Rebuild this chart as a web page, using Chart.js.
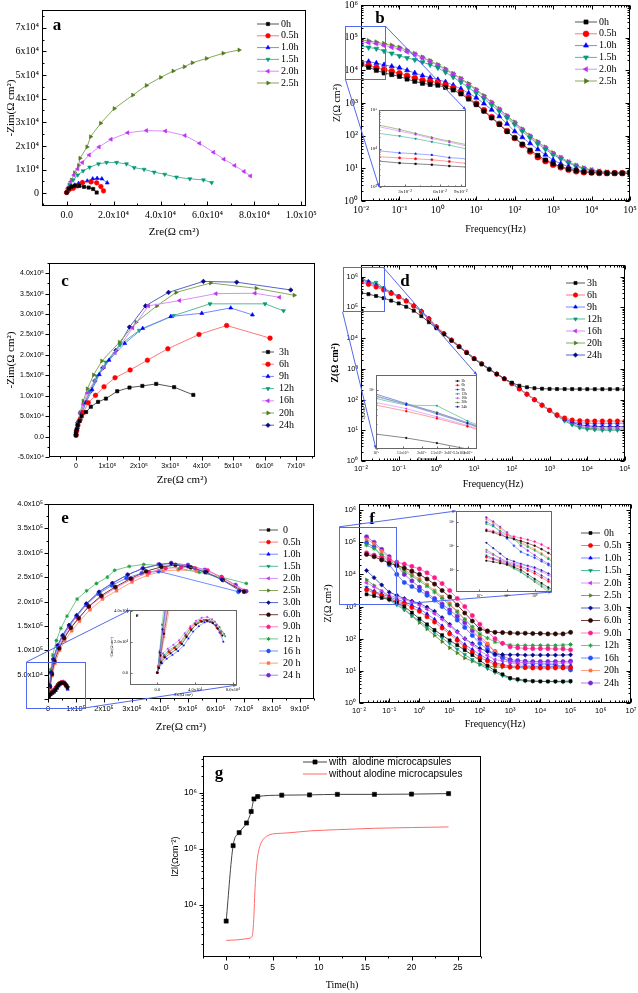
<!DOCTYPE html>
<html><head><meta charset="utf-8">
<script src="https://cdn.jsdelivr.net/npm/chart.js@4.4.1/dist/chart.umd.min.js"></script>
<style>
html,body{margin:0;padding:0;background:#fff;}
body{width:638px;height:993px;position:relative;overflow:hidden;}
canvas{position:absolute;}
</style></head><body>
<script>
const SERIF = "'Liberation Serif','Times New Roman',serif";
const SANS = "'Liberation Sans',Arial,sans-serif";

// ================= DATA =================
// ---- Panel a (Nyquist, 0-2.5 h) ----
const aLabels = ['0h','0.5h','1.0h','1.5h','2.0h','2.5h'];
const aZre_0h  = [0,1000,2100,3500,5400,7400,9400,11300,12800];
const aZim_0h  = [300,2000,2800,3200,3100,2700,2400,1800,300];
const aZre_05h = [0,600,1400,2800,4500,6700,10400,12800,14600,15700];
const aZim_05h = [300,1100,1800,2100,3100,4500,4800,4400,2800,1000];
const aZre_10h = [0,1000,2100,3500,5100,6800,8800,11100,13000,15000,17300];
const aZim_10h = [300,1700,2800,3500,4200,4600,5200,6100,6300,6100,4400];
const aZre_15h = [0,400,1400,2800,4700,7000,9800,13600,17000,21300,25500,28800,33000,37300,41800,46800,52500,58300,61800];
const aZim_15h = [300,1700,3500,5600,7700,9400,11000,12400,13000,13000,12400,10800,10100,8900,8000,6800,6100,5600,4500];
const aZre_20h = [0,700,1700,3100,4700,6700,9600,13800,18900,26000,34000,42100,50400,56600,62600,67000,71600,75600,78300];
const aZim_20h = [300,2500,4900,7700,10300,13000,16200,19600,22800,25600,26500,26300,24400,21100,17300,14400,11700,9200,7300];
const aZre_25h = [0,400,1100,2100,3400,5100,5700,8700,10200,14500,20300,28200,34000,40100,45400,50200,53600,59600,66700,73500];
const aZim_25h = [300,1700,3500,5600,8700,11700,14800,19600,23900,29600,35800,41500,45600,49000,51700,53500,55200,57000,59200,60600];
const aXTicks = [0,20000,40000,60000,80000,100000];
const aXTickLabels = ['0.0','2.0x10⁴','4.0x10⁴','6.0x10⁴','8.0x10⁴','1.0x10⁵'];
const aYTicks = [0,10000,20000,30000,40000,50000,60000,70000];
const aYTickLabels = ['0','1x10⁴','2x10⁴','3x10⁴','4x10⁴','5x10⁴','6x10⁴','7x10⁴'];

// ---- Panel b (Bode, 0-2.5 h) ----
const bFreq = [0.01,0.0158,0.0251,0.0398,0.0631,0.1,0.158,0.251,0.398,0.631,1,1.58,2.51,3.98,6.31,10,15.8,25.1,39.8,63.1,100,158,251,398,631,1000,1580,2510,3980,6310,10000,15800,25100,39800,63100,100000];
const bZ_0p0 = [1.5e4,1.23e4,1.0e4,8.3e3,7.4e3,6.5e3,5.4e3,4.6e3,4.0e3,3.7e3,3.5e3,3.0e3,2.5e3,1.9e3,1.32e3,890,560,350,220,135,85,55,36,25,18,13.8,11.2,9.5,8.5,7.8,7.4,7.2,7.1,7.1,7.1,7.1];
const bZ_0p5 = [1.66e4,1.41e4,1.2e4,1.05e4,9.3e3,8.1e3,6.8e3,5.8e3,4.9e3,4.6e3,4.2e3,3.5e3,2.9e3,2.1e3,1.45e3,955,600,370,230,138,85,52,33,22,16.6,12.9,10.7,9.1,8.1,7.6,7.4,7.2,7.1,7.1,7.1,7.1];
const bZ_1p0 = [1.8e4,1.86e4,1.66e4,1.48e4,1.32e4,1.2e4,1.0e4,8.3e3,6.9e3,6.0e3,5.2e3,4.4e3,3.5e3,2.7e3,2.0e3,1.45e3,955,620,390,230,135,89,58,38,26,18,13.8,11.2,9.3,8.3,7.9,7.6,7.2,7.1,7.2,8.5];
const bZ_1p5 = [5.6e4,5.0e4,4.6e4,3.9e4,3.3e4,2.75e4,2.4e4,2.1e4,1.78e4,1.48e4,1.2e4,8.7e3,6.2e3,4.3e3,2.95e3,2.0e3,1.35e3,870,560,350,220,135,85,56,38,26,19.5,14.8,11.5,9.5,8.5,7.9,7.6,7.2,7.1,7.1];
const bZ_2p0 = [7.4e4,7.1e4,6.6e4,5.8e4,5.1e4,4.5e4,3.7e4,3.1e4,2.4e4,1.86e4,1.41e4,1.02e4,7.6e3,5.4e3,3.6e3,2.45e3,1.55e3,1.0e3,630,390,245,150,95,62,42,28,21,15.5,12,10,8.9,8.1,7.6,7.2,7.1,7.1];
const bZ_2p5 = [8.5e4,7.9e4,7.2e4,6.5e4,5.8e4,5.0e4,4.1e4,3.2e4,2.5e4,1.95e4,1.48e4,1.1e4,7.9e3,5.6e3,3.9e3,2.6e3,1.66e3,1.05e3,660,410,257,158,100,65,44,29.5,21.4,15.8,12.3,10.2,8.9,8.1,7.6,7.2,7.1,7.1];
// inset of b
const bInsFreq = [0.018,0.027,0.037,0.051,0.072,0.1];
const bIns_0p0 = [4700,4200,4000,3800,3500,3300];
const bIns_0p5 = [6100,5700,5400,5100,4600,4100];
const bIns_1p0 = [8700,7700,7300,6800,5800,5400];
const bIns_1p5 = [24600,21000,17900,14900,12200,9800];
const bIns_2p0 = [36700,28300,23200,18200,14600,11700];
const bIns_2p5 = [40600,31300,24600,19400,15500,12700];
const bodeXTicks = [0.01,0.1,1,10,100,1000,10000,100000];
const bodeXTickLabels = ['10⁻²','10⁻¹','10⁰','10¹','10²','10³','10⁴','10⁵'];
const bodeYTicks = [1,10,100,1000,10000,100000,1000000];
const bodeYTickLabels = ['10⁰','10¹','10²','10³','10⁴','10⁵','10⁶'];

// ---- Panel c (Nyquist, 3-24 h) ----
const cLabels = ['3h','6h','9h','12h','16h','20h','24h'];
const cZre_3h  = [0,0,2000,5000,11000,18000,32000,47000,70000,95000,131000,170000,211000,255000,312000,373000];
const cZim_3h  = [3000,10000,18000,28000,38000,50000,60000,73000,85000,93000,111000,120000,124000,129000,121000,102000];
const cZre_6h  = [0,2000,6000,13000,23000,39000,62000,89000,124000,172000,227000,292000,391000,479000,617000];
const cZim_6h  = [3000,14000,28000,42000,59000,83000,101000,122000,144000,163000,187000,215000,250000,272000,241000];
const cZre_9h  = [0,0,5000,11000,19000,32000,51000,74000,105000,155000,212000,301000,400000,492000,561000];
const cZim_9h  = [6000,12000,22000,38000,59000,83000,115000,152000,187000,228000,265000,294000,302000,315000,298000];
const cZre_12h = [0,2000,8000,18000,30000,45000,66000,95000,140000,201000,310000,426000,601000,660000];
const cZim_12h = [5000,14000,33000,54000,83000,111000,148000,182000,225000,260000,296000,325000,325000,308000];
const cZre_16h = [0,2000,5000,13000,23000,36000,60000,90000,124000,180000,230000,329000,445000,569000,647000];
const cZim_16h = [5000,15000,34000,56000,79000,107000,138000,171000,205000,266000,320000,333000,350000,351000,341000];
const cZre_20h = [0,2000,5000,13000,23000,36000,56000,82000,138000,191000,257000,318000,428000,573000,694000];
const cZim_20h = [5000,15000,34000,59000,87000,117000,151000,185000,231000,280000,320000,353000,376000,363000,346000];
const cZre_24h = [0,2000,6000,15000,27000,45000,60000,85000,127000,170000,221000,294000,405000,511000,683000];
const cZim_24h = [5000,15000,34000,59000,83000,110000,136000,168000,211000,268000,320000,353000,380000,378000,359000];
const cXTicks = [0,100000,200000,300000,400000,500000,600000,700000];
const cXTickLabels = ['0','1x10⁵','2x10⁵','3x10⁵','4x10⁵','5x10⁵','6x10⁵','7x10⁵'];
const cYTicks = [-50000,0,50000,100000,150000,200000,250000,300000,350000,400000];
const cYTickLabels = ['-5.0x10⁴','0.0','5.0x10⁴','1.0x10⁵','1.5x10⁵','2.0x10⁵','2.5x10⁵','3.0x10⁵','3.5x10⁵','4.0x10⁵'];

// ---- Panel d (Bode, 3-24 h) ----
const dFreq = [0.01,0.0158,0.0251,0.0398,0.0631,0.1,0.158,0.251,0.398,0.631,1,1.58,2.51,3.98,6.31,10,15.8,25.1,39.8,63.1,100,158,251,398,631,1000,1580,2510,3980,6310,10000,15800,25100,39800,63100,100000];
const dZ_3h  = [3.0e5,2.7e5,2.35e5,2.0e5,1.66e5,1.35e5,1.05e5,7.8e4,5.2e4,3.3e4,2.1e4,1.32e4,8.3e3,5.2e3,3.3e3,2.1e3,1.41e3,955,676,479,355,282,251,234,226,222,220,220,219,219,218,218,218,218,219,220];
const dZ_6h  = [6.6e5,5.6e5,4.6e5,3.7e5,2.85e5,2.2e5,1.6e5,1.1e5,7.3e4,4.2e4,2.3e4,1.38e4,8.5e3,5.3e3,3.4e3,2.15e3,1.45e3,960,670,470,325,220,148,98,65,45,32,25,21.5,20.5,20,20,20,20,20,20];
const dZ_9h  = [8.5e5,6.7e5,5.2e5,4.0e5,3.0e5,2.25e5,1.63e5,1.12e5,7.4e4,4.3e4,2.35e4,1.42e4,8.8e3,5.5e3,3.5e3,2.2e3,1.48e3,990,690,485,335,226,152,101,67,45,31,23,19,17.5,17,17,17,17,17,17];
const dZ_12h = [7.9e5,6.6e5,6.5e5,4.3e5,3.1e5,2.3e5,1.65e5,1.13e5,7.5e4,4.3e4,2.35e4,1.41e4,8.7e3,5.4e3,3.5e3,2.2e3,1.48e3,980,680,480,330,224,150,99,65,43,29,20,15,12,10.8,10.3,10,10,10,10];
const dZ_16h = [7.1e5,6.0e5,4.8e5,3.8e5,2.9e5,2.2e5,1.6e5,1.1e5,7.3e4,4.3e4,2.33e4,1.4e4,8.6e3,5.4e3,3.5e3,2.2e3,1.47e3,975,675,475,328,222,150,99,66,44,30,22,16.5,13.5,12.5,12.1,12,12,12,12];
const dZ_20h = [8.3e5,6.8e5,5.3e5,4.0e5,3.0e5,2.26e5,1.63e5,1.12e5,7.4e4,4.3e4,2.34e4,1.41e4,8.7e3,5.4e3,3.5e3,2.2e3,1.48e3,980,680,480,330,224,151,100,66,44,30,21.5,16,13,11.7,11.2,11,11,11,11];
const dZ_24h = [8.9e5,6.9e5,5.4e5,4.1e5,3.1e5,2.3e5,1.66e5,1.15e5,7.6e4,4.4e4,2.4e4,1.41e4,8.7e3,5.4e3,3.5e3,2.2e3,1.48e3,980,680,480,330,224,151,100,66,45,31,23.4,17.8,15.1,13.8,13.5,13.2,13.2,13.2,13.2];

// ---- Panel e (Nyquist, 0-24 h) ----
const eLabels = ['0','0.5h','1.0h','1.5h','2.0h','2.5h','3.0h','6.0h','9.0h','12 h','16 h','20 h','24 h'];
const eZre_0p0 = [0,1500,4000,8000,14000,20000,26000,31000,36000,41000,47000,53000,59000,64000,69000];
const eZim_0p0 = [0,3000,6500,9800,12500,15000,18500,23000,27500,31000,33000,33500,32000,28500,24000];
const eZre_0p5 = [0,1200,3500,7000,12000,18000,24000,30000,35000,40000,46000,52000,58000,63000,67000];
const eZim_0p5 = [0,3500,7000,10500,13500,16000,19500,24000,28500,31500,33500,34000,32500,29000,25500];
const eZre_1p0 = [0,2000,5000,10000,16000,22000,28000,33000,38000,44000,50000,56000,62000,66000,70000];
const eZim_1p0 = [0,3000,6000,9000,11500,14000,17500,22000,26500,30000,32500,32800,30500,26000,20000];
const eZre_1p5 = [0,1000,3000,7000,12000,19000,25000,30000,35000,40000,45000,50000,56000,62000,68000,72000];
const eZim_1p5 = [0,4000,8000,11500,14500,17000,20000,24500,29000,32000,33800,34000,33000,30500,26500,23500];
const eZre_2p0 = [0,1000,3000,6000,11000,17000,23000,29000,35000,41000,47000,53000,58000,63000,67000];
const eZim_2p0 = [0,4500,9000,12500,15500,18000,21000,25500,30000,33500,35500,36000,34500,31000,27000];
const eZre_2p5 = [0,1500,4000,8000,13000,19000,25000,31000,37000,43000,49000,55000,61000,66000,71000];
const eZim_2p5 = [0,4000,7500,10800,13500,16000,19000,23500,28500,32000,34000,34200,33000,29500,25000];
const eZre_3p0 = [0,2500,5500,11000,19000,34000,52000,75000,102000,137000,182000,230000,285000,340000,400000,440000,500000,560000,620000,685000];
const eZim_3p0 = [0,13000,28000,55000,82000,110000,131000,152000,172000,196000,220000,238000,255000,268000,276000,278000,272000,260000,245000,222000];
const eZre_6p0 = [0,3500,7000,14000,23000,40000,58000,82000,110000,146000,190000,240000,295000,350000,405000,455000,510000,565000,625000,700000];
const eZim_6p0 = [0,11000,25000,51000,77000,104000,125000,146000,166000,190000,212000,230000,247000,262000,271000,275000,270000,260000,244000,220000];
const eZre_9p0 = [0,3000,6500,13000,22000,38000,56000,80000,108000,145000,192000,242000,300000,360000,420000,475000,525000,570000,620000,700000];
const eZim_9p0 = [0,12000,26000,52000,79000,106000,126000,146000,165000,189000,210000,228000,246000,260000,268000,270000,268000,264000,250000,222000];
const eZre_12h = [0,2500,5000,10000,17000,30000,46000,68000,104000,138000,173000,212000,238000,290000,342000,400000,470000,540000,620000,708000];
const eZim_12h = [0,14000,31000,60000,90000,120000,145000,170000,205000,222000,237000,250000,264000,272000,276000,274000,268000,260000,250000,237000];
const eZre_16h = [0,3000,6000,12000,20000,35000,53000,76000,102000,136000,180000,228000,280000,335000,395000,680000];
const eZim_16h = [0,12000,27000,54000,81000,108000,128000,149000,169000,193000,216000,233000,248000,258000,262000,220000];
const eZre_20h = [0,3500,7500,15000,25000,42000,60000,85000,113000,150000,195000,245000,300000,355000,410000,465000,530000];
const eZim_20h = [0,10000,23000,48000,73000,100000,120000,140000,160000,183000,205000,222000,240000,254000,262000,265000,262000];
const eZre_24h = [0,2800,5800,11500,19500,35000,53000,76000,103000,138000,183000,230000,284000,338000,395000,440000,500000,560000,620000,670000,708000];
const eZim_24h = [0,12500,28000,55000,82000,110000,130000,151000,171000,195000,219000,237000,255000,268000,276000,279000,275000,265000,250000,234000,221000];
const eXTicks = [0,100000,200000,300000,400000,500000,600000,700000,800000,900000];
const eXTickLabels = ['0','1x10⁵','2x10⁵','3x10⁵','4x10⁵','5x10⁵','6x10⁵','7x10⁵','8x10⁵','9x10⁵'];
const eYTicks = [0,50000,100000,150000,200000,250000,300000,350000,400000];
const eYTickLabels = ['','5.0x10⁴','1.0x10⁵','1.5x10⁵','2.0x10⁵','2.5x10⁵','3.0x10⁵','3.5x10⁵','4.0x10⁵'];

// ---- Panel f (Bode, 0-24 h) ----
const fLabels = ['0h','0.5h','1.0h','1.5h','2.0h','2.5h','3.0h','6.0h','9.0h','12h','16h','20h','24h'];
const fFreq = [0.0178,0.0316,0.0562,0.1,0.178,0.316,0.562,1,1.78,3.16,5.62,10,17.8,31.6,56.2,100,178,316,562,1000,1780,3160,5620,10000,17800,31600,56200,100000];
const fZ_0p0 = [2400,2140,1860,1660,1290,1000,650,420,280,186,129,89,63,44,31,21,14.5,10,7.8,6.0,5.5,5.0,4.8,4.7,4.7,4.7,4.7,4.8];
const fZ_0p5 = [3300,2700,2200,1780,1480,1260,930,710,480,330,214,141,89,56,38,26,20.4,15.8,14.5,13.2,12.9,12.6,12.3,12.3,12.3,12.3,12.3,12.6];
const fZ_1p0 = [3700,3000,2450,2000,1660,1410,1100,850,590,400,250,158,102,66,46,32,23.4,17.8,15.8,14.1,13.8,13.8,13.8,13.8,13.8,13.8,13.8,14.1];
const fZ_1p5 = [4000,2950,2140,1580,1120,790,520,355,234,158,105,71,47,32,22.4,15.8,11.7,8.9,7.1,5.6,5.1,4.8,4.7,4.7,4.6,4.6,4.5,4.5];
const fZ_2p0 = [5500,4100,3000,2240,1900,1660,1380,1120,830,600,400,250,158,100,65,42,30,22.4,20.4,18.6,18.2,17.8,17.4,17.4,17.4,17.4,17.4,17.8];
const fZ_2p5 = [6800,4500,3000,2000,1290,830,510,316,200,126,81,52,36,25,20,15.8,14.5,13.2,12.9,12.6,12.6,12.3,12.3,12.3,12.3,12.3,12.3,12.6];
const fZ_3p0 = [13200,7900,4700,2800,2240,1780,1480,1260,955,710,450,280,166,100,71,50,40,33,32,31.6,31.6,30.9,30.9,30.9,30.9,30.9,30.9,31.6];
const fZ_6p0 = [41700,35500,28200,22400,19000,15800,12600,10000,7200,5000,3160,2000,1120,630,355,200,174,158,155,151,148,148,145,145,141,141,141,158];
const fZ_9p0 = [46800,39800,33100,28200,24000,20900,17800,14800,11200,7900,5200,3160,1780,1000,525,282,166,100,72,56,52,50,49,49,49,48,48,45];
const fZ_12h = [81000,63000,41700,28200,18600,12600,8900,6300,4300,2800,1780,1120,680,400,234,141,105,79,71,63,62,62,62,62,62,62,63,66];
const fZ_16h = [95500,70800,35500,20000,10000,5600,4200,3160,2240,1580,1000,630,380,224,126,71,47,32,25,20,18.6,17.4,17,16.6,16.2,15.8,13.2,10.7];
const fZ_20h = [123000,89000,52500,31600,20900,14100,10000,7100,4800,3160,2000,1260,710,400,224,126,71,40,26,17.8,15.8,14.5,14.1,13.8,13.8,13.8,13.8,13.8];
const fZ_24h = [148000,100000,60000,35500,19000,10000,6300,4000,2630,1780,1200,790,500,316,178,100,63,40,29.5,22.4,20.9,20,19.5,19.5,19.5,19.5,19.5,20];
const fXTicks = [0.01,0.1,1,10,100,1000,10000,100000,1000000,10000000];
const fXTickLabels = ['10⁻²','10⁻¹','10⁰','10¹','10²','10³','10⁴','10⁵','10⁶','10⁷'];

// ---- Panel g (|Z| vs time) ----
const gLabels = ['with  alodine microcapsules','without alodine microcapsules'];
const gWithT = [0,0.75,1.4,2.2,2.7,3.0,3.4,6,9,12,16,20,24];
const gWithZ = [5100,113000,193000,287000,460000,770000,850000,900000,910000,930000,930000,940000,960000];
const gWithoutT = [0,1,2,2.5,2.8,2.9,3.0,3.1,3.2,3.35,3.5,3.75,4,4.5,5,6,7,9,12,16,20,24];
const gWithoutZ = [2310,2340,2440,2520,2720,3530,6500,17000,34000,63000,91000,124000,147000,171000,183000,188000,193000,207000,218000,231000,238000,244000];
const gXTicks = [0,5,10,15,20,25];
const gXTickLabels = ['0','5','10','15','20','25'];
const gYTicks = [10000,100000,1000000];
const gYTickLabels = ['10⁴','10⁵','10⁶'];

// ================= STYLES =================
const STY = [
  {c:'#000000', l:'#555555', s:'rect', r:0},
  {c:'#ff0000', l:'#ff7777', s:'circle', r:0},
  {c:'#0000ff', l:'#7788ff', s:'triangle', r:0},
  {c:'#00997a', l:'#55bb99', s:'triangle', r:180},
  {c:'#c030f0', l:'#d890f8', s:'triangle', r:-90},
  {c:'#4f7a1c', l:'#88a860', s:'triangle', r:90},
  {c:'#0a0a90', l:'#5565c8', s:'rectRot', r:0},
  {c:'#2a0808', l:'#7a3a3a', s:'circle', r:0},
  {c:'#ff1a8c', l:'#ff80c0', s:'circle', r:0},
  {c:'#1fa040', l:'#70c888', s:'star', r:0},
  {c:'#1f4fff', l:'#7090ff', s:'circle', r:0},
  {c:'#ff7043', l:'#ffa080', s:'rect', r:0},
  {c:'#7a22d8', l:'#b080ee', s:'circle', r:0}
];

function ser(label, xs, ys, st, r, lw) {
  return {label, data: xs.map((x,i)=>({x, y: ys[i]})), showLine:true, borderColor: st.l, borderWidth: lw,
    pointStyle: st.s, pointRotation: st.r, pointRadius: r, pointHoverRadius: r,
    pointBorderColor: st.c, pointBackgroundColor: st.c, pointBorderWidth: st.s==='star'?1:0.6, backgroundColor: st.c};
}
function buildSet(labels, xsList, ysList, r, lw) {
  return labels.map((lb,i)=>ser(lb, xsList[i], ysList[i], STY[i], r, lw));
}
const aXs = [aZre_0h,aZre_05h,aZre_10h,aZre_15h,aZre_20h,aZre_25h];
const aYs = [aZim_0h,aZim_05h,aZim_10h,aZim_15h,aZim_20h,aZim_25h];
const bYs = [bZ_0p0,bZ_0p5,bZ_1p0,bZ_1p5,bZ_2p0,bZ_2p5];
const bInsYs = [bIns_0p0,bIns_0p5,bIns_1p0,bIns_1p5,bIns_2p0,bIns_2p5];
const cXs = [cZre_3h,cZre_6h,cZre_9h,cZre_12h,cZre_16h,cZre_20h,cZre_24h];
const cYs = [cZim_3h,cZim_6h,cZim_9h,cZim_12h,cZim_16h,cZim_20h,cZim_24h];
const dYs = [dZ_3h,dZ_6h,dZ_9h,dZ_12h,dZ_16h,dZ_20h,dZ_24h];
const eXs = [eZre_0p0,eZre_0p5,eZre_1p0,eZre_1p5,eZre_2p0,eZre_2p5,eZre_3p0,eZre_6p0,eZre_9p0,eZre_12h,eZre_16h,eZre_20h,eZre_24h];
const eYs = [eZim_0p0,eZim_0p5,eZim_1p0,eZim_1p5,eZim_2p0,eZim_2p5,eZim_3p0,eZim_6p0,eZim_9p0,eZim_12h,eZim_16h,eZim_20h,eZim_24h];
const fYs = [fZ_0p0,fZ_0p5,fZ_1p0,fZ_1p5,fZ_2p0,fZ_2p5,fZ_3p0,fZ_6p0,fZ_9p0,fZ_12h,fZ_16h,fZ_20h,fZ_24h];
const rep = (arr, n) => Array.from({length:n}, ()=>arr);

// ================= PLUGINS =================
function marker(ctx, style, rot, r, x, y, fill, stroke) {
  ctx.save(); ctx.translate(x,y); ctx.rotate((rot||0)*Math.PI/180);
  ctx.fillStyle = fill; ctx.strokeStyle = stroke; ctx.lineWidth = 0.6; ctx.beginPath();
  if (style==='rect') { const s=r*Math.SQRT1_2; ctx.rect(-s,-s,2*s,2*s); }
  else if (style==='rectRot') { ctx.moveTo(0,-r); ctx.lineTo(r,0); ctx.lineTo(0,r); ctx.lineTo(-r,0); ctx.closePath(); }
  else if (style==='triangle') { ctx.moveTo(0,-r); ctx.lineTo(r*0.866,r*0.5); ctx.lineTo(-r*0.866,r*0.5); ctx.closePath(); }
  else if (style==='star') { ctx.lineWidth=1; for (let k=0;k<3;k++){const a=k*Math.PI/3; ctx.moveTo(Math.sin(a)*r,-Math.cos(a)*r); ctx.lineTo(-Math.sin(a)*r,Math.cos(a)*r);} ctx.stroke(); ctx.restore(); return; }
  else { ctx.arc(0,0,r,0,Math.PI*2); }
  ctx.fill(); ctx.stroke(); ctx.restore();
}
const framePlugin = {
  id:'frame',
  afterDraw(chart, args, o) {
    if (!o || o.off) return;
    const ctx = chart.ctx, ca = chart.chartArea;
    const L=Math.round(ca.left)+0.5, R=Math.round(ca.right)-0.5, T=Math.round(ca.top)+0.5, B=Math.round(ca.bottom)-0.5;
    ctx.save(); ctx.strokeStyle = o.color||'#000'; ctx.lineWidth = 1;
    ctx.strokeRect(L, T, R-L, B-T);
    const sgn = o.dir==='out' ? 1 : -1;
    ['x','y'].forEach(id => {
      const s = chart.scales[id]; const ms = o[id+'Minor'];
      const major = s.ticks.map(t=>t.value);
      const minor = [];
      if (ms === 'log') {
        for (let e=Math.floor(Math.log10(s.min)); e<=Math.ceil(Math.log10(s.max)); e++)
          for (let k=2;k<=9;k++){ const v=k*Math.pow(10,e); if (v>=s.min && v<=s.max) minor.push(v); }
      } else if (ms) {
        for (let v=Math.ceil(s.min/ms)*ms; v<=s.max+1e-9; v+=ms)
          if (!major.some(m=>Math.abs(m-v)<ms*1e-3)) minor.push(v);
      }
      const draw = (v, len) => {
        const p = Math.round(s.getPixelForValue(v))+0.5;
        ctx.beginPath();
        if (id==='x') { ctx.moveTo(p,B); ctx.lineTo(p,B+sgn*len); if (o.mirror){ctx.moveTo(p,T); ctx.lineTo(p,T+len);} }
        else { ctx.moveTo(L,p); ctx.lineTo(L-sgn*len,p); if (o.mirror){ctx.moveTo(R,p); ctx.lineTo(R-len,p);} }
        ctx.stroke();
      };
      major.forEach(v=>draw(v, o.len||4));
      minor.forEach(v=>draw(v, o.mlen||2));
    });
    ctx.restore();
  }
};
const legendPlugin = {
  id:'lg',
  afterDraw(chart, args, o) {
    if (!o || !o.show) return;
    const ctx = chart.ctx, ca = chart.chartArea;
    ctx.save(); ctx.font = o.font; ctx.textBaseline = 'middle'; ctx.textAlign = 'left';
    chart.data.datasets.forEach((d,i) => {
      const x = ca.left + o.x, y = ca.top + o.y + i*o.dy;
      ctx.strokeStyle = d.borderColor; ctx.lineWidth = d.borderWidth;
      ctx.beginPath(); ctx.moveTo(x,y); ctx.lineTo(x+o.len,y); ctx.stroke();
      if (d.pointRadius>0) marker(ctx, d.pointStyle, d.pointRotation, o.r||d.pointRadius, x+o.len/2, y, d.pointBackgroundColor, d.pointBorderColor);
      ctx.fillStyle = '#000'; ctx.fillText(d.label, x+o.len+o.gap, y);
    });
    ctx.restore();
  }
};
const letterPlugin = {
  id:'letter',
  afterDraw(chart, args, o) {
    if (!o || !o.text) return;
    const ctx = chart.ctx, ca = chart.chartArea;
    ctx.save(); ctx.font = o.font; ctx.fillStyle='#000'; ctx.textAlign='center'; ctx.textBaseline='middle';
    ctx.fillText(o.text, ca.left+o.x, ca.top+o.y); ctx.restore();
  }
};
const bgPlugin = {
  id:'bg',
  beforeDraw(chart, args, o) {
    if (!o || !o.color) return;
    const ctx = chart.ctx, ca = chart.chartArea;
    ctx.save(); ctx.fillStyle = o.color; ctx.fillRect(ca.left, ca.top, ca.right-ca.left, ca.bottom-ca.top); ctx.restore();
  }
};

function axisCfg(spec, horiz, size) {
  return {
    type: spec.type || 'linear', position: horiz ? 'bottom' : 'left', min: spec.min, max: spec.max, bounds:'data',
    grid:{display:false, drawTicks:false}, border:{display:false},
    ticks:{autoSkip:false, maxRotation:0, minRotation:0, padding: spec.pad, color:'#000', font: spec.font,
      callback: (v,i) => (spec.labels[i] !== undefined ? spec.labels[i] : '')},
    title: spec.title ? {display:true, text: spec.title, color:'#000', font: spec.tfont, padding:0} : {display:false},
    afterBuildTicks: s => { s.ticks = spec.ticks.map(v=>({value:v})); },
    afterFit: s => { if (horiz) s.height = size; else s.width = size; s.paddingLeft=0; s.paddingRight=0; s.paddingTop=0; s.paddingBottom=0; }
  };
}
function makeChart(p) {
  const [L,T,R,B] = p.frame;
  const W = Math.round(R-L+p.ml+p.mr), H = Math.round(B-T+p.mt+p.mb);
  const cv = document.createElement('canvas');
  cv.width = W; cv.height = H;
  Object.assign(cv.style, {left:(L-p.ml)+'px', top:(T-p.mt)+'px', width:W+'px', height:H+'px', zIndex:String(p.z||1)});
  document.body.appendChild(cv);
  const ch = new Chart(cv, {
    type:'scatter',
    data:{datasets:p.datasets},
    options:{
      responsive:false, animation:false, devicePixelRatio:1, events:[],
      layout:{padding:{left:0, top:p.mt, right:p.mr, bottom:0}},
      scales:{x: axisCfg(p.x, true, p.mb), y: axisCfg(p.y, false, p.ml)},
      plugins:{legend:{display:false}, tooltip:{enabled:false}, frame:p.frameOpt||{}, lg:p.legend||{}, letter:p.letter||{}, bg:p.bg||{}}
    },
    plugins:[bgPlugin, framePlugin, legendPlugin, letterPlugin]
  });
  ch._pageLeft = L - p.ml; ch._pageTop = T - p.mt;
  return ch;
}

const fs = (family, size, weight) => ({family, size, weight: weight||'normal'});
const LEG = (x,y,dy,len,gap,font,r) => ({show:true, x, y, dy, len, gap, font, r});
const LET = (t,x,y) => ({text:t, x, y, font:"bold 17px "+SERIF});

// ================= MAIN PANELS =================
const chA = makeChart({
  frame:[42,10,306,206], ml:37, mt:10, mr:26, mb:33,
  datasets: buildSet(aLabels, aXs, aYs, 2.3, 1),
  x:{min:-10500, max:102000, ticks:aXTicks, labels:aXTickLabels, font:fs(SERIF,10), pad:3, title:'Zre(Ω cm²)', tfont:fs(SERIF,11)},
  y:{min:-5400, max:77500, ticks:aYTicks, labels:aYTickLabels, font:fs(SERIF,10), pad:3, title:'-Zim(Ω cm²)', tfont:fs(SERIF,11)},
  frameOpt:{dir:'in', len:4, mlen:2, xMinor:10000, yMinor:5000},
  legend: LEG(215,14,11.8,22,2,"10px "+SERIF, 2.3),
  letter: LET('a',15,16)
});
const chB = makeChart({
  frame:[361,5,630,201], ml:30, mt:5, mr:8, mb:34,
  datasets: buildSet(aLabels, rep(bFreq,6), bYs, 2.9, 1),
  x:{type:'logarithmic', min:0.01, max:100000, ticks:bodeXTicks, labels:bodeXTickLabels, font:fs(SERIF,10), pad:3, title:'Frequency(Hz)', tfont:fs(SERIF,10)},
  y:{type:'logarithmic', min:1, max:1000000, ticks:bodeYTicks, labels:bodeYTickLabels, font:fs(SERIF,10), pad:3, title:'Z(Ω cm²)', tfont:fs(SERIF,10)},
  frameOpt:{dir:'in', len:4, mlen:2, xMinor:'log', yMinor:'log', mirror:true},
  legend: LEG(214,17,11.8,22,2,"10px "+SERIF, 2.9),
  letter: LET('b',19,14)
});
const chC = makeChart({
  frame:[49,263,315,457], ml:44, mt:8, mr:20, mb:30,
  datasets: buildSet(cLabels, cXs, cYs, 2.3, 1),
  x:{min:-86000, max:760000, ticks:cXTicks, labels:cXTickLabels, font:fs(SANS,7), pad:5, title:'Zre(Ω cm²)', tfont:fs(SERIF,11)},
  y:{min:-50000, max:425000, ticks:cYTicks, labels:cYTickLabels, font:fs(SANS,7), pad:5, title:'-Zim(Ω cm²)', tfont:fs(SERIF,11)},
  frameOpt:{dir:'out', len:4, mlen:2, xMinor:50000, yMinor:25000},
  legend: LEG(213,89,12.2,12,5,"10px "+SERIF, 2.3),
  letter: LET('c',16,19)
});
const chD = makeChart({
  frame:[361,265,625,461], ml:32, mt:8, mr:12, mb:29,
  datasets: buildSet(cLabels, rep(dFreq,7), dYs, 2.2, 1),
  x:{type:'logarithmic', min:0.01, max:100000, ticks:bodeXTicks, labels:bodeXTickLabels, font:fs(SANS,7.5), pad:3, title:'Frequency(Hz)', tfont:fs(SERIF,10)},
  y:{type:'logarithmic', min:1, max:2400000, ticks:bodeYTicks, labels:bodeYTickLabels, font:fs(SANS,7.5), pad:3, title:'Z(Ω cm²)', tfont:fs(SERIF,10,'bold')},
  frameOpt:{dir:'in', len:4, mlen:2, xMinor:'log', yMinor:'log', mirror:true},
  legend: LEG(205,18,12,19,2,"10px "+SERIF, 2.2),
  letter: LET('d',44,17)
});
const chE = makeChart({
  frame:[48,504,314,699], ml:48, mt:6, mr:20, mb:35,
  datasets: buildSet(eLabels, eXs, eYs, 1.9, 1),
  x:{min:0, max:950000, ticks:eXTicks, labels:eXTickLabels, font:fs(SANS,7.5), pad:5, title:'Zre(Ω cm²)', tfont:fs(SERIF,11)},
  y:{min:0, max:400000, ticks:eYTicks, labels:eYTickLabels, font:fs(SANS,7.5), pad:5},
  frameOpt:{dir:'out', len:4, mlen:2, xMinor:50000, yMinor:25000},
  legend: LEG(211,26,12.1,19,5,"10px "+SERIF, 1.9),
  letter: LET('e',17,15)
});
const chF = makeChart({
  frame:[359,504,631,703], ml:37, mt:6, mr:7, mb:27,
  datasets: buildSet(fLabels, rep(fFreq,13), fYs, 2.1, 1),
  x:{type:'logarithmic', min:0.01, max:10000000, ticks:fXTicks, labels:fXTickLabels, font:fs(SANS,7.5), pad:3, title:'Frequency(Hz)', tfont:fs(SERIF,10)},
  y:{type:'logarithmic', min:1, max:1550000, ticks:bodeYTicks, labels:bodeYTickLabels, font:fs(SANS,7.5), pad:3, title:'Z(Ω cm²)', tfont:fs(SERIF,10)},
  frameOpt:{dir:'in', len:4, mlen:2, xMinor:'log', yMinor:'log', mirror:true},
  legend: LEG(222,29,12.5,19,4,"10px "+SERIF, 2.1),
  letter: LET('f',13,16)
});
const gDs = [
  Object.assign(ser(gLabels[0], gWithT, gWithZ, {c:'#000000', l:'#444444', s:'rect', r:0}, 2.9, 1), {cubicInterpolationMode:'monotone'}),
  Object.assign(ser(gLabels[1], gWithoutT, gWithoutZ, {c:'#ff5a5a', l:'#ff6b6b', s:'circle', r:0}, 0, 1), {cubicInterpolationMode:'monotone'})
];
const chG = makeChart({
  frame:[203,756,481,957], ml:33, mt:4, mr:10, mb:34,
  datasets: gDs,
  x:{min:-2.5, max:27.5, ticks:gXTicks, labels:gXTickLabels, font:fs(SANS,8.5), pad:6, title:'Time(h)', tfont:fs(SERIF,10)},
  y:{type:'logarithmic', min:1165, max:4500000, ticks:gYTicks, labels:gYTickLabels, font:fs(SANS,8.5), pad:6, title:'lZl(Ωcm⁻²)', tfont:fs(SANS,9)},
  frameOpt:{dir:'out', len:4, mlen:2, xMinor:2.5, yMinor:'log'},
  legend: LEG(100,6,12,24,2,"10px "+SANS, 2.9),
  letter: LET('g',16,18)
});

// ================= INSETS =================
const inB = makeChart({
  frame:[379,110,466,187], ml:12, mt:2, mr:8, mb:8, z:3,
  datasets: buildSet(aLabels, rep(bInsFreq,6), bInsYs, 1.1, 0.7),
  x:{type:'logarithmic', min:0.018, max:0.1, ticks:[0.03,0.06,0.09], labels:['3x10⁻²','6x10⁻²','9x10⁻²'], font:fs(SERIF,5), pad:2},
  y:{type:'logarithmic', min:1000, max:100000, ticks:[1000,10000,100000], labels:['10³','10⁴','10⁵'], font:fs(SERIF,5), pad:2},
  frameOpt:{dir:'in', len:2, mlen:1, xMinor:'log', yMinor:'log', color:'#666'},
  bg:{color:'#fff'}
});
const inD = makeChart({
  frame:[376,375,477,449], ml:14, mt:2, mr:8, mb:12, z:3,
  datasets: buildSet(cLabels, rep(dFreq,7), dYs, 0.9, 0.7),
  x:{type:'logarithmic', min:0.01, max:0.046, ticks:[0.01,0.015,0.02,0.025,0.03,0.035,0.04], labels:['10⁻²','1.5x10⁻²','2x10⁻²','2.5x10⁻²','3x10⁻²','3.5x10⁻²','4x10⁻²'], font:fs(SERIF,3.5), pad:1.5, title:'Frequency', tfont:fs(SERIF,4)},
  y:{type:'logarithmic', min:200000, max:1500000, ticks:[1000000], labels:['10⁶'], font:fs(SERIF,4), pad:1.5, title:'Z(Ω cm²)', tfont:fs(SERIF,4)},
  frameOpt:{dir:'in', len:2, mlen:1, yMinor:'log', color:'#666'},
  legend: LEG(79,6,4.3,5,1.5,"3.5px "+SERIF, 0.8),
  bg:{color:'#fff'}
});
const inE = makeChart({
  frame:[130,610,237,685], ml:20, mt:2, mr:10, mb:12, z:3,
  datasets: buildSet(eLabels, eXs, eYs, 0.9, 0.7),
  x:{min:-29000, max:84500, ticks:[0,40000,80000], labels:['0.0','4.0x10⁴','8.0x10⁴'], font:fs(SERIF,4.5), pad:2, title:'Zre(Ω cm²)', tfont:fs(SERIF,4)},
  y:{min:-8000, max:40500, ticks:[0,20000,40000], labels:['0.0','2.0x10⁴','4.0x10⁴'], font:fs(SERIF,4.5), pad:2, title:'-Zim(Ω cm²)', tfont:fs(SERIF,4)},
  frameOpt:{dir:'in', len:2, mlen:1, color:'#666'},
  letter:{text:'e', x:7, y:5, font:"bold 6px "+SERIF},
  bg:{color:'#fff'}
});
const inF = makeChart({
  frame:[456,511,552,592], ml:10, mt:2, mr:5, mb:7, z:3,
  datasets: buildSet(fLabels, rep(fFreq,13), fYs, 0.9, 0.7),
  x:{type:'logarithmic', min:0.00141, max:4.27, ticks:[0.01,0.1,1], labels:['10⁻²','10⁻¹','10⁰'], font:fs(SERIF,4), pad:1.5},
  y:{type:'logarithmic', min:120, max:275000, ticks:[1000,10000,100000], labels:['10³','10⁴','10⁵'], font:fs(SERIF,4), pad:1.5},
  frameOpt:{dir:'in', len:2, mlen:1, color:'#666'},
  bg:{color:'#fff'}
});

// ================= CALLOUTS (zoom boxes) =================
const callouts = [
  {main:chB, inset:inB, rect:[0.00389,0.0427,5500,229000], links:[['l','b'],['r','t']]},
  {main:chD, inset:inD, rect:[0.00324,0.0389,72400,2000000], links:[['l','b'],['r','t']]},
  {main:chE, inset:inE, rect:[-77000,135000,-18000,76000], links:[['l','t'],['r','b']]},
  {main:chF, inset:inF, rect:[0.00219,0.174,1175,302000], links:[['l','t'],['r','b']]}
];
(function drawCallouts(){
  const cv = document.createElement('canvas');
  cv.width = 638; cv.height = 993;
  Object.assign(cv.style, {left:'0px', top:'0px', width:'638px', height:'993px', zIndex:'2'});
  document.body.appendChild(cv);
  const ctx = cv.getContext('2d');
  ctx.strokeStyle = '#5468ee'; ctx.fillStyle = '#3f55ee'; ctx.lineWidth = 1;
  callouts.forEach(co => {
    const m = co.main, [x0,x1,y0,y1] = co.rect;
    const px = v => m._pageLeft + m.scales.x.getPixelForValue(v);
    const py = v => m._pageTop + m.scales.y.getPixelForValue(v);
    const rl = px(x0), rr = px(x1), rb = py(y0), rt = py(y1);
    ctx.strokeRect(Math.round(rl)+0.5, Math.round(rt)+0.5, Math.round(rr-rl), Math.round(rb-rt));
    const ia = co.inset.chartArea, il = co.inset._pageLeft + ia.left, ir = co.inset._pageLeft + ia.right,
          it = co.inset._pageTop + ia.top, ib = co.inset._pageTop + ia.bottom;
    co.links.forEach(([cx,cy]) => {
      const sx = cx==='l'?rl:rr, sy = cy==='t'?rt:rb;
      const ex = cx==='l'?il:ir, ey = cy==='t'?it:ib;
      ctx.beginPath(); ctx.moveTo(sx,sy); ctx.lineTo(ex,ey); ctx.stroke();
      const ang = Math.atan2(ey-sy, ex-sx), h = 4;
      ctx.beginPath(); ctx.moveTo(ex,ey);
      ctx.lineTo(ex - h*Math.cos(ang-0.4), ey - h*Math.sin(ang-0.4));
      ctx.lineTo(ex - h*Math.cos(ang+0.4), ey - h*Math.sin(ang+0.4));
      ctx.closePath(); ctx.fill();
    });
  });
})();
</script>
</body></html>
